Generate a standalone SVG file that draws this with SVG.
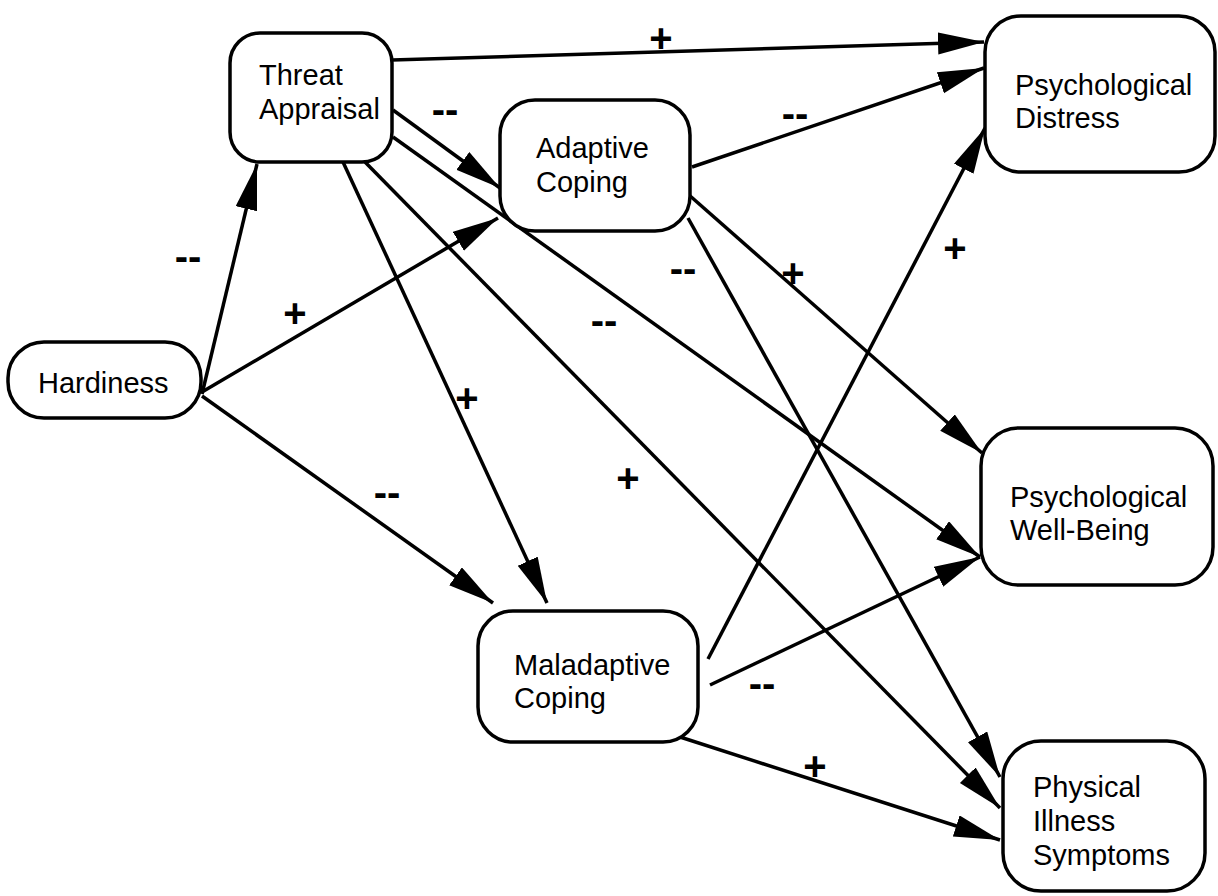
<svg xmlns="http://www.w3.org/2000/svg" width="1218" height="896" viewBox="0 0 1218 896">
  <style>
    .node rect { fill: #fff; stroke: #000; stroke-width: 3.5; }
    .node text { font-family: "Liberation Sans", Arial, sans-serif; font-size: 29px; fill: #000; }
    .edges line { stroke: #000; stroke-width: 3.5; marker-end: url(#arrow); }
    .lbl { font-family: "Liberation Sans", Arial, sans-serif; font-weight: bold; font-size: 40px; fill: #000; text-anchor: middle; }
  </style>
  <defs>
    <marker id="arrow" markerUnits="userSpaceOnUse" markerWidth="48" markerHeight="24" refX="46" refY="11" orient="auto">
      <path d="M0,0 L46,11 L0,22 Z" fill="#000"/>
    </marker>
  </defs>
  <rect width="1218" height="896" fill="#fff"/>

  <!-- connectors -->
  <g id="edges" class="edges">
    <line x1="202" y1="394" x2="257" y2="164"/>
    <line x1="202" y1="392" x2="498" y2="218"/>
    <line x1="202" y1="396" x2="493" y2="603"/>
    <line x1="392" y1="60" x2="984" y2="42"/>
    <line x1="393" y1="110" x2="500" y2="188"/>
    <line x1="393" y1="137" x2="980" y2="557"/>
    <line x1="343" y1="162" x2="547" y2="603"/>
    <line x1="365" y1="162" x2="1000" y2="808"/>
    <line x1="692" y1="167" x2="984" y2="68"/>
    <line x1="689" y1="195" x2="982" y2="453"/>
    <line x1="688" y1="218" x2="1000" y2="777"/>
    <line x1="708" y1="659" x2="985" y2="128"/>
    <line x1="710" y1="685" x2="980" y2="557"/>
    <line x1="680" y1="737" x2="1000" y2="840"/>
  </g>

  <!-- path signs -->
  <g id="labels">
    <text class="lbl" x="188" y="270">--</text>
    <text class="lbl" x="295" y="327">+</text>
    <text class="lbl" x="387" y="506">--</text>
    <text class="lbl" x="661" y="52">+</text>
    <text class="lbl" x="445" y="123">--</text>
    <text class="lbl" x="604" y="334">--</text>
    <text class="lbl" x="467" y="412">+</text>
    <text class="lbl" x="628" y="492">+</text>
    <text class="lbl" x="795" y="127">--</text>
    <text class="lbl" x="793" y="287">+</text>
    <text class="lbl" x="683" y="282">--</text>
    <text class="lbl" x="955" y="262">+</text>
    <text class="lbl" x="762" y="697">--</text>
    <text class="lbl" x="815" y="780">+</text>
  </g>

  <g id="threat" class="node">
    <rect x="230" y="33" width="162" height="129" rx="30"/>
    <text x="259" y="85">Threat</text>
    <text x="259" y="119">Appraisal</text>
  </g>
  <g id="hardiness" class="node">
    <rect x="8" y="342" width="193" height="76" rx="36"/>
    <text x="38" y="393">Hardiness</text>
  </g>
  <g id="adaptive" class="node">
    <rect x="500" y="100" width="190" height="131" rx="35"/>
    <text x="536" y="158">Adaptive</text>
    <text x="536" y="192">Coping</text>
  </g>
  <g id="distress" class="node">
    <rect x="985" y="16" width="230" height="156" rx="36"/>
    <text x="1015" y="95">Psychological</text>
    <text x="1015" y="128">Distress</text>
  </g>
  <g id="wellbeing" class="node">
    <rect x="981" y="428" width="232" height="157" rx="38"/>
    <text x="1010" y="507">Psychological</text>
    <text x="1010" y="540">Well-Being</text>
  </g>
  <g id="maladaptive" class="node">
    <rect x="478" y="611" width="220" height="131" rx="35"/>
    <text x="514" y="675">Maladaptive</text>
    <text x="514" y="708">Coping</text>
  </g>
  <g id="physical" class="node">
    <rect x="1003" y="741" width="202" height="150" rx="38"/>
    <text x="1033" y="797">Physical</text>
    <text x="1033" y="831">Illness</text>
    <text x="1033" y="865">Symptoms</text>
  </g>
</svg>
